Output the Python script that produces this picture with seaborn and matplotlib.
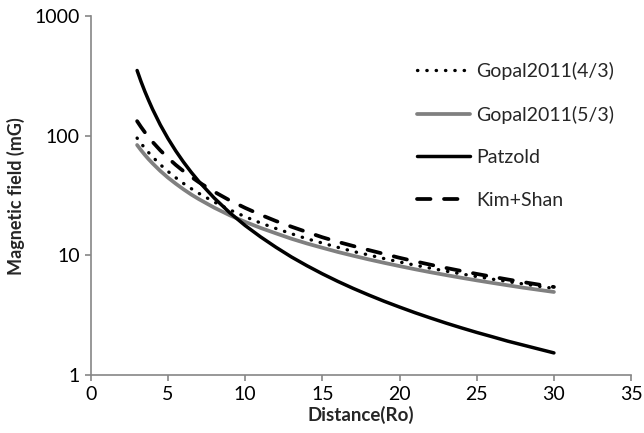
import matplotlib
matplotlib.use("Agg")
import matplotlib.pyplot as plt
import seaborn as sns
import pandas as pd
from matplotlib.ticker import FixedLocator, FixedFormatter, NullLocator

distance = [3, 3.25, 3.5, 3.75, 4, 4.5, 5, 5.5, 6, 6.5, 7, 8, 9, 10, 11, 12, 13, 14, 15, 16,
            17, 18, 19, 20, 21, 22, 23, 24, 25, 26, 27, 28, 29, 30]

gopal_43 = [96, 86.8, 79.1, 72.5, 66.9, 57.6, 50.5, 44.8, 40.1, 36.3, 33.1, 28.0, 24.1, 21.1,
            18.7, 16.8, 15.2, 13.8, 12.7, 11.7, 10.8, 10.1, 9.42, 8.82, 8.30, 7.83, 7.40, 7.01,
            6.66, 6.34, 6.05, 5.78, 5.53, 5.30]
gopal_53 = [84, 76.1, 69.5, 63.8, 59.0, 51.0, 44.8, 39.9, 35.8, 32.4, 29.6, 25.1, 21.7, 19.1,
            17.0, 15.3, 13.8, 12.6, 11.6, 10.7, 9.95, 9.27, 8.68, 8.15, 7.67, 7.24, 6.86, 6.51,
            6.19, 5.90, 5.63, 5.38, 5.16, 4.95]
patzold = [353, 286, 236, 198, 167.5, 124, 95.2, 75.1, 60.6, 49.8, 41.6, 30.2, 22.8, 17.8,
           14.3, 11.7, 9.71, 8.21, 7.02, 6.07, 5.30, 4.67, 4.14, 3.70, 3.32, 3.00, 2.72, 2.48,
           2.27, 2.09, 1.92, 1.78, 1.65, 1.53]
kim_shan = [133, 119.0, 107.4, 97.6, 89.2, 75.8, 65.5, 57.3, 50.8, 45.5, 41.0, 34.1, 28.9, 25.0,
            21.9, 19.4, 17.4, 15.7, 14.2, 13.0, 12.0, 11.1, 10.3, 9.56, 8.93, 8.37, 7.87, 7.42,
            7.01, 6.64, 6.30, 5.99, 5.71, 5.45]

series_names = ["Gopal2011(4/3)", "Gopal2011(5/3)", "Patzold", "Kim+Shan"]
x_ticks = [0, 5, 10, 15, 20, 25, 30, 35]
y_ticks = [1, 10, 100, 1000]
y_tick_labels = ["1", "10", "100", "1000"]

sns.set_style("white")
plt.rcParams["font.family"] = ["Lato", "DejaVu Sans"]

fig = plt.figure(figsize=(6.44, 4.33), dpi=100)
ax = fig.add_axes([0.141, 0.134, 0.839, 0.828])

styles = {
    "Gopal2011(4/3)": dict(color="black", linewidth=2.4, linestyle=(0, (0.1, 2.7)),
                           dash_capstyle="round"),
    "Gopal2011(5/3)": dict(color="#808080", linewidth=2.7, linestyle="-"),
    "Patzold": dict(color="black", linewidth=2.5, linestyle="-"),
    "Kim+Shan": dict(color="black", linewidth=2.7, linestyle=(0, (3.6, 3.6)),
                     dash_capstyle="round"),
}

values = [gopal_43, gopal_53, patzold, kim_shan]
for name, vals in zip(series_names, values):
    df = pd.DataFrame({"Distance": distance, "B": vals})
    sns.lineplot(data=df, x="Distance", y="B", ax=ax, label=name, **styles[name])

ax.set_yscale("log")
ax.set_xlim(0, 35)
ax.set_ylim(1, 1000)
ax.xaxis.set_major_locator(FixedLocator(x_ticks))
ax.yaxis.set_major_locator(FixedLocator(y_ticks))
ax.yaxis.set_major_formatter(FixedFormatter(y_tick_labels))
ax.yaxis.set_minor_locator(NullLocator())

for s in ["top", "right"]:
    ax.spines[s].set_visible(False)
for s in ["left", "bottom"]:
    ax.spines[s].set_color("#868686")
    ax.spines[s].set_linewidth(1.2)

ax.tick_params(axis="both", which="major", direction="out", length=4.5, width=1.2,
               color="#868686", labelsize=14, labelcolor="black", pad=3.5)
ax.tick_params(axis="y", left=True)
ax.tick_params(axis="x", bottom=True)

ax.set_xlabel("Distance(Ro)", fontsize=13.5, fontweight="bold", labelpad=2)
ax.set_ylabel("Magnetic field (mG)", fontsize=13, fontweight="bold", labelpad=7)

leg = ax.legend(loc="upper left", bbox_to_anchor=(0.604, 0.873), frameon=False,
                fontsize=14, handlelength=2.73, handletextpad=0.31, labelspacing=1.31,
                borderaxespad=0, borderpad=0)

fig.savefig("out.png", dpi=100)
